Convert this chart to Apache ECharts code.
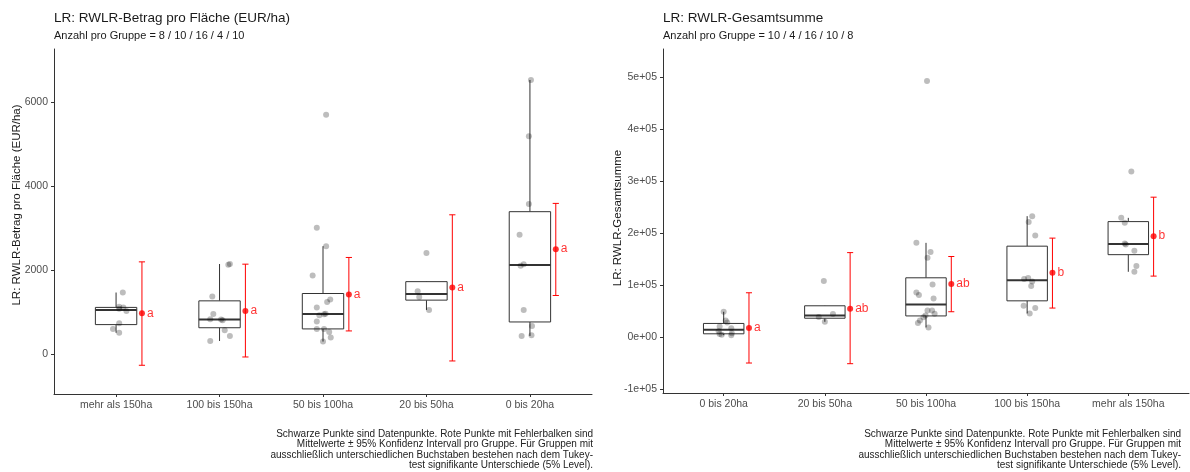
<!DOCTYPE html>
<html><head><meta charset="utf-8">
<script src="https://cdn.jsdelivr.net/npm/echarts@6/dist/echarts.min.js"></script>
<style>html,body{margin:0;padding:0;background:#fff}#c{width:1190px;height:472px}</style>
</head><body><div id="c"></div>
<script>
// ---------- data ----------
const leftCategories = ['mehr als 150ha', '100 bis 150ha', '50 bis 100ha', '20 bis 50ha', '0 bis 20ha'];
const rightCategories = ['0 bis 20ha', '20 bis 50ha', '50 bis 100ha', '100 bis 150ha', 'mehr als 150ha'];

const leftPoints = [
  [1465, 1125, 1105, 1075, 1025, 735, 595, 505],
  [2145, 2125, 1370, 955, 828, 820, 805, 565, 428, 309],
  [5704, 3007, 2570, 1871, 1298, 1241, 1107, 960, 945, 924, 773, 597, 597, 525, 391, 296],
  [2405, 1497, 1361, 1050],
  [6533, 5194, 3576, 2842, 2142, 2102, 1050, 667, 445, 429]
];
const leftJitter = [
  [0.065, 0.03, 0.07, 0.03, 0.10, 0.03, -0.03, 0.03],
  [0.10, 0.085, -0.07, -0.06, -0.09, 0.015, 0.03, 0.05, 0.10, -0.09],
  [0.03, -0.06, 0.03, -0.10, 0.07, 0.04, -0.06, 0.025, 0.01, -0.035, -0.06, -0.06, 0.01, 0.06, 0.075, 0],
  [0, -0.085, -0.07, 0.025],
  [0.01, -0.01, -0.01, -0.10, -0.06, -0.09, -0.06, 0.02, 0.015, -0.08]
];
const leftMeans = [971, 1026, 1418, 1585, 2499];
const leftCiLow = [-270, -72, 549, -167, 1394];
const leftCiHigh = [2196, 2141, 2301, 3318, 3590];
const leftLetters = ['a', 'a', 'a', 'a', 'a'];
const leftYTicks = [0, 2000, 4000, 6000];

const rightPoints = [
  [48650, 31900, 28100, 20400, 17000, 11000, 7500, 5800, 4500, 3500],
  [108000, 44200, 38500, 29400],
  [492900, 181300, 163500, 152500, 101200, 85800, 80800, 74200, 51200, 51200, 44800, 41500, 38000, 31900, 26900, 18500],
  [232700, 221200, 195400, 113500, 111500, 106900, 98100, 60200, 55800, 45400],
  [318500, 229400, 219800, 180000, 178000, 165900, 136500, 125600]
];
const rightJitter = [
  [0, 0.02, 0.035, -0.04, 0.075, -0.05, 0.08, -0.04, -0.02, 0.075],
  [-0.01, 0.08, -0.06, 0],
  [0.01, -0.095, 0.045, 0.015, 0.065, -0.095, -0.07, 0.075, 0.015, 0.06, 0.085, -0.005, -0.025, -0.06, -0.08, 0.025],
  [0.05, 0.015, 0.08, 0.01, -0.03, 0.05, 0.04, -0.035, 0.08, 0.025],
  [0.03, -0.07, -0.035, -0.035, -0.025, 0.06, 0.08, 0.06]
];
const rightMeans = [17600, 54400, 101900, 123700, 194200];
const rightCiLow = [-50000, -51300, 48700, 55800, 117300];
const rightCiHigh = [85200, 162500, 155000, 190400, 269200];
const rightLetters = ['a', 'ab', 'ab', 'b', 'b'];
const rightYTicks = [-100000, 0, 100000, 200000, 300000, 400000, 500000];

const leftTitle = 'LR: RWLR-Betrag pro Fläche (EUR/ha)';
const leftSubtitle = 'Anzahl pro Gruppe = 8 / 10 / 16 / 4 / 10';
const rightTitle = 'LR: RWLR-Gesamtsumme';
const rightSubtitle = 'Anzahl pro Gruppe = 10 / 4 / 16 / 10 / 8';
const leftYName = 'LR: RWLR-Betrag pro Fläche (EUR/ha)';
const rightYName = 'LR: RWLR-Gesamtsumme';
const captionLines = [
  'Schwarze Punkte sind Datenpunkte. Rote Punkte mit Fehlerbalken sind',
  'Mittelwerte ± 95% Konfidenz Intervall pro Gruppe. Für Gruppen mit',
  'ausschließlich unterschiedlichen Buchstaben bestehen nach dem Tukey-',
  'test signifikante Unterschiede (5% Level).'
];

// ---------- helpers ----------
const FONT = '"Liberation Sans", Arial, sans-serif';
const BOX_W = 0.4, MEAN_OFF = 0.25, CAP_W = 0.06;

function quantile(sorted, p) {
  const h = (sorted.length - 1) * p, lo = Math.floor(h), hi = Math.ceil(h);
  return sorted[lo] + (h - lo) * (sorted[hi] - sorted[lo]);
}
function boxStats(points) {
  return points.map((arr, i) => {
    const s = arr.slice().sort((a, b) => a - b);
    const q1 = quantile(s, 0.25), med = quantile(s, 0.5), q3 = quantile(s, 0.75);
    const iqr = q3 - q1;
    const inside = s.filter(v => v >= q1 - 1.5 * iqr && v <= q3 + 1.5 * iqr);
    return [i + 1, q1, med, q3, inside[0], inside[inside.length - 1]];
  });
}
function boxRender(params, api) {
  const x = api.value(0);
  const half = api.size([BOX_W, 0])[0] / 2;
  const q1 = api.coord([x, api.value(1)]), md = api.coord([x, api.value(2)]), q3 = api.coord([x, api.value(3)]);
  const lo = api.coord([x, api.value(4)]), hi = api.coord([x, api.value(5)]);
  const st = { stroke: '#333', lineWidth: 1, fill: null };
  return { type: 'group', children: [
    { type: 'line', shape: { x1: q3[0], y1: q3[1], x2: hi[0], y2: hi[1] }, style: st },
    { type: 'line', shape: { x1: q1[0], y1: q1[1], x2: lo[0], y2: lo[1] }, style: st },
    { type: 'rect', shape: { x: q3[0] - half, y: q3[1], width: 2 * half, height: q1[1] - q3[1] }, style: { stroke: '#333', lineWidth: 1, fill: '#fff' } },
    { type: 'line', shape: { x1: md[0] - half, y1: md[1], x2: md[0] + half, y2: md[1] }, style: { stroke: '#333', lineWidth: 2 } }
  ] };
}
function errRender(params, api) {
  const x = api.value(0);
  const half = api.size([CAP_W, 0])[0] / 2;
  const lo = api.coord([x, api.value(1)]), hi = api.coord([x, api.value(2)]);
  const st = { stroke: '#ff0000', lineWidth: 1 };
  return { type: 'group', children: [
    { type: 'line', shape: { x1: lo[0], y1: lo[1], x2: hi[0], y2: hi[1] }, style: st },
    { type: 'line', shape: { x1: hi[0] - half, y1: hi[1], x2: hi[0] + half, y2: hi[1] }, style: st },
    { type: 'line', shape: { x1: lo[0] - half, y1: lo[1], x2: lo[0] + half, y2: lo[1] }, style: st }
  ] };
}
function panelSeries(idx, points, jitter, means, lo, hi, letters) {
  const pts = [];
  points.forEach((arr, g) => arr.forEach((v, k) => pts.push([g + 1 + jitter[g][k], v])));
  return [
    { type: 'custom', xAxisIndex: idx, yAxisIndex: idx, renderItem: boxRender, data: boxStats(points), encode: { x: 0, y: [1, 2, 3, 4, 5] }, z: 2 },
    { type: 'scatter', xAxisIndex: idx, yAxisIndex: idx, data: pts, symbolSize: 6, itemStyle: { color: 'rgba(0,0,0,0.32)' }, z: 3 },
    { type: 'custom', xAxisIndex: idx, yAxisIndex: idx, renderItem: errRender, data: means.map((m, g) => [g + 1 + MEAN_OFF, lo[g], hi[g]]), encode: { x: 0, y: [1, 2] }, z: 4 },
    { type: 'scatter', xAxisIndex: idx, yAxisIndex: idx, symbolSize: 6, itemStyle: { color: '#ff0000' }, z: 5,
      data: means.map((m, g) => ({ value: [g + 1 + MEAN_OFF, m], label: { formatter: letters[g] } })),
      label: { show: true, position: 'right', distance: 2, color: '#ff0000', fontSize: 12, fontFamily: FONT } }
  ];
}
function xAxisCfg(idx, cats) {
  return { type: 'value', gridIndex: idx, min: 0.4, max: 5.6,
    axisLine: { onZero: false, lineStyle: { color: '#333', width: 1 } },
    axisTick: { show: true, length: 3, customValues: [1, 2, 3, 4, 5], lineStyle: { color: '#333' } },
    axisLabel: { customValues: [1, 2, 3, 4, 5], formatter: v => cats[Math.round(v) - 1], color: '#4d4d4d', fontSize: 10.5, fontFamily: FONT, margin: 6 },
    splitLine: { show: false } };
}
function yAxisCfg(idx, min, max, ticks, fmt) {
  return { type: 'value', gridIndex: idx, min, max,
    axisLine: { show: true, onZero: false, lineStyle: { color: '#333', width: 1 } },
    axisTick: { show: true, length: 3, customValues: ticks, lineStyle: { color: '#333' } },
    axisLabel: { customValues: ticks, formatter: fmt, color: '#4d4d4d', fontSize: 10.5, fontFamily: FONT, margin: 6 },
    splitLine: { show: false } };
}
const sciFmt = v => v === 0 ? '0e+00' : (v < 0 ? '-' : '') + Math.round(Math.abs(v) / 1e5) + 'e+05';

const chart = echarts.init(document.getElementById('c'), null, { renderer: 'canvas' });
chart.setOption({
  animation: false,
  backgroundColor: '#fff',
  grid: [
    { left: 54, top: 49, width: 538, height: 345, outerBoundsMode: 'none' },
    { left: 663, top: 49, width: 526, height: 344, outerBoundsMode: 'none' }
  ],
  xAxis: [xAxisCfg(0, leftCategories), xAxisCfg(1, rightCategories)],
  yAxis: [
    yAxisCfg(0, -955, 7272, leftYTicks, v => String(v)),
    yAxisCfg(1, -107700, 554400, rightYTicks, sciFmt)
  ],
  series: [
    ...panelSeries(0, leftPoints, leftJitter, leftMeans, leftCiLow, leftCiHigh, leftLetters),
    ...panelSeries(1, rightPoints, rightJitter, rightMeans, rightCiLow, rightCiHigh, rightLetters)
  ],
  graphic: [
    { type: 'text', x: 54, y: 18, style: { text: leftTitle, font: '13.5px ' + FONT, fill: '#1a1a1a', verticalAlign: 'middle' } },
    { type: 'text', x: 54, y: 36, style: { text: leftSubtitle, font: '11px ' + FONT, fill: '#1a1a1a', verticalAlign: 'middle' } },
    { type: 'text', x: 663, y: 18, style: { text: rightTitle, font: '13.5px ' + FONT, fill: '#1a1a1a', verticalAlign: 'middle' } },
    { type: 'text', x: 663, y: 36, style: { text: rightSubtitle, font: '11px ' + FONT, fill: '#1a1a1a', verticalAlign: 'middle' } },
    { type: 'text', x: 17, y: 205, rotation: Math.PI / 2, style: { text: leftYName, font: '11.5px ' + FONT, fill: '#1a1a1a', align: 'center', verticalAlign: 'middle' } },
    { type: 'text', x: 618, y: 218, rotation: Math.PI / 2, style: { text: rightYName, font: '11.5px ' + FONT, fill: '#1a1a1a', align: 'center', verticalAlign: 'middle' } },
    { type: 'text', x: 593, y: 429, style: { text: captionLines.join('\n'), font: '10px ' + FONT, lineHeight: 10.4, fill: '#222', align: 'right', verticalAlign: 'top' } },
    { type: 'text', x: 1181, y: 429, style: { text: captionLines.join('\n'), font: '10px ' + FONT, lineHeight: 10.4, fill: '#222', align: 'right', verticalAlign: 'top' } }
  ]
});
</script></body></html>
